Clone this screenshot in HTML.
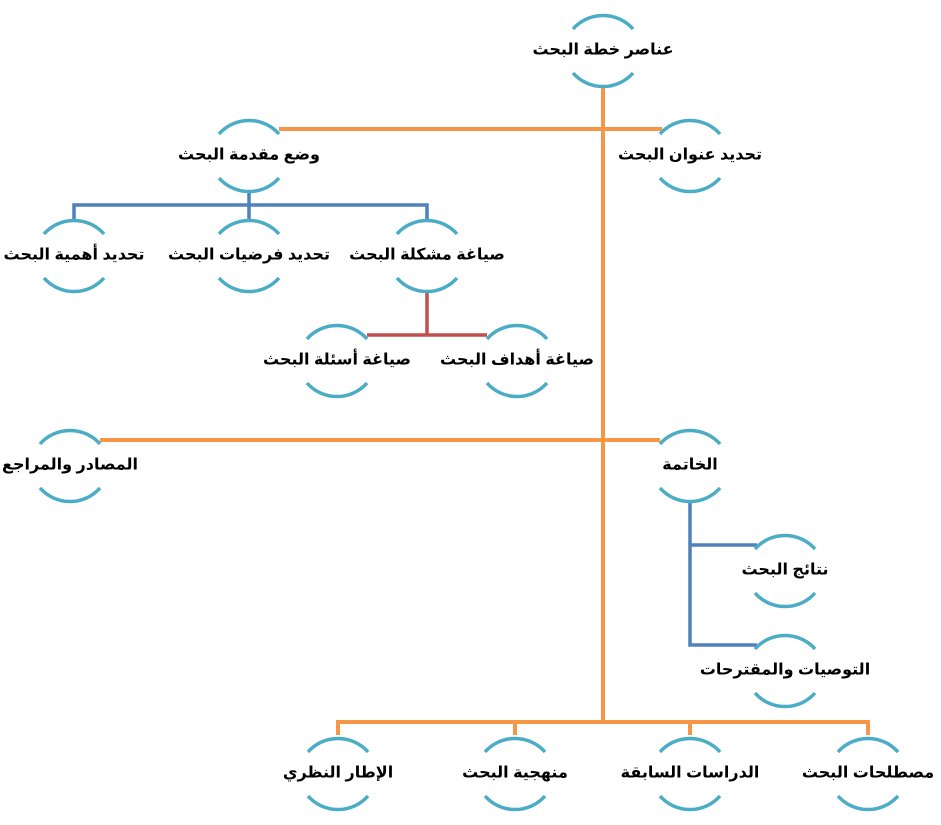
<!DOCTYPE html>
<html><head><meta charset="utf-8"><style>
html,body{margin:0;padding:0;background:#fff;}
svg{display:block}
text{font-family:"Liberation Sans","DejaVu Sans",sans-serif;font-weight:bold;font-size:16px;fill:#000;text-anchor:middle;dominant-baseline:central}
.a{fill:none;stroke:#4bacc6;stroke-width:3.5}
.o{stroke:#f79646;stroke-width:4;fill:none}
.b{stroke:#4f81bd;stroke-width:3.5;fill:none}
.r{stroke:#c0504d;stroke-width:3.5;fill:none}
</style></head><body>
<svg width="941" height="825" viewBox="0 0 941 825">
<defs>
<g id="n"><path class="a" d="M-30 -21 A40 40 0 0 1 30 -21"/><path class="a" d="M-30 23 A40 40 0 0 0 30 23"/></g>
</defs>
<path class="o" d="M603 88 V722 M279 129 H662 M100 440 H660 M338 735 V722 H868 V735 M515 722 V735 M690 722 V735"/>
<path class="b" d="M249 190 V205 M74 220 V205 H427 V220 M249 205 V220"/>
<path class="r" d="M427 290 V335 M367 335 H487"/>
<path class="b" d="M690 500 V645 H757 M690 545 H757"/>

<use href="#n" x="603" y="50"/><text x="603" y="50" direction="rtl">عناصر خطة البحث</text>
<use href="#n" x="690" y="155"/><text x="690" y="155" direction="rtl">تحديد عنوان البحث</text>
<use href="#n" x="249" y="155"/><text x="249" y="155" direction="rtl">وضع مقدمة البحث</text>
<use href="#n" x="74" y="255"/><text x="74" y="255" direction="rtl">تحديد أهمية البحث</text>
<use href="#n" x="249" y="255"/><text x="249" y="255" direction="rtl">تحديد فرضيات البحث</text>
<use href="#n" x="427" y="255"/><text x="427" y="255" direction="rtl">صياغة مشكلة البحث</text>
<use href="#n" x="337" y="360"/><text x="337" y="360" direction="rtl">صياغة أسئلة  البحث</text>
<use href="#n" x="517" y="360"/><text x="517" y="360" direction="rtl">صياغة أهداف البحث</text>
<use href="#n" x="70" y="465"/><text x="70" y="465" direction="rtl">المصادر والمراجع</text>
<use href="#n" x="690" y="465"/><text x="690" y="465" direction="rtl">الخاتمة</text>
<use href="#n" x="785" y="570"/><text x="785" y="570" direction="rtl">نتائج البحث</text>
<use href="#n" x="785" y="670"/><text x="785" y="670" direction="rtl">التوصيات والمقترحات</text>
<use href="#n" x="338" y="773"/><text x="338" y="773" direction="rtl">الإطار النظري</text>
<use href="#n" x="515" y="773"/><text x="515" y="773" direction="rtl">منهجية البحث</text>
<use href="#n" x="690" y="773"/><text x="690" y="773" direction="rtl">الدراسات السابقة</text>
<use href="#n" x="868" y="773"/><text x="868" y="773" direction="rtl">مصطلحات البحث</text>
</svg>
</body></html>
